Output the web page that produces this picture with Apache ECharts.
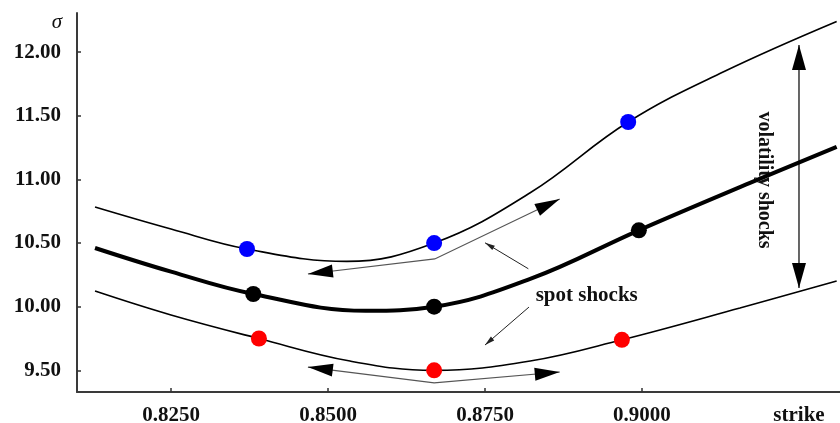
<!DOCTYPE html>
<html><head><meta charset="utf-8">
<script src="https://cdn.jsdelivr.net/npm/echarts@6/dist/echarts.min.js"></script>
<style>html,body{margin:0;padding:0;background:#fff}#c{width:840px;height:423px}</style>
</head><body><div id="c"></div>
<script>
// ---- data ----
const xTicks = [0.825, 0.85, 0.875, 0.9];
const yTicks = [9.5, 10, 10.5, 11, 11.5, 12];
const xTitle = 'strike';
const xTitleAt = 0.925;
const yTitle = 'σ';

const upperCurve = [[0.8129,10.783],[0.8250,10.610],[0.8371,10.453],[0.8530,10.356],[0.8669,10.500],[0.8822,10.895],[0.8978,11.451],[0.9130,11.845],[0.9310,12.240]];
const baseCurve  = [[0.8129,10.461],[0.8250,10.275],[0.8381,10.100],[0.8560,9.968],[0.8669,10.000],[0.8822,10.218],[0.8995,10.600],[0.9172,10.972],[0.9310,11.255]];
const lowerCurve = [[0.8129,10.123],[0.8250,9.935],[0.8390,9.750],[0.8535,9.573],[0.8669,9.500],[0.8822,9.573],[0.8968,9.740],[0.9156,9.990],[0.9310,10.202]];

const bluePoints  = [[0.8371,10.453],[0.8669,10.500],[0.8978,11.451]];
const blackPoints = [[0.8381,10.100],[0.8669,10.000],[0.8995,10.600]];
const redPoints   = [[0.8390,9.750],[0.8669,9.500],[0.8968,9.740]];

// annotation geometry in data units
const volShockArrow = [[0.9250,12.056],[0.9250,10.147]];
const spotArrowUpper = [[0.8468,10.257],[0.8670,10.375],[0.8869,10.846]];
const spotArrowLower = [[0.8468,9.526],[0.8669,9.401],[0.8869,9.487]];
const pointerUpper = [[0.8819,10.298],[0.8750,10.502]];
const pointerLower = [[0.8820,9.997],[0.8750,9.699]];
const spotLabel = {text:'spot shocks', at:[0.8912,10.084]};
const volLabel = {text:'volatility shocks', at:[0.9194,10.995]};

// ---- chart ----
const FONT = '"Liberation Serif", "Times New Roman", serif';
const chart = echarts.init(document.getElementById('c'), null, {renderer:'canvas'});

function head(tip, from, len, wid, color){
  const dx = tip[0]-from[0], dy = tip[1]-from[1];
  const d = Math.hypot(dx,dy) || 1; const ux = dx/d, uy = dy/d;
  const bx = tip[0]-ux*len, by = tip[1]-uy*len;
  return {type:'polygon', shape:{points:[[tip[0],tip[1]],[bx-uy*wid/2, by+ux*wid/2],[bx+uy*wid/2, by-ux*wid/2]]}, style:{fill:color}};
}
function poly(pts, w, color){
  return {type:'polyline', shape:{points:pts}, style:{stroke:color, lineWidth:w, fill:null}};
}

function renderAnno(params, api){
  const c = p => api.coord(p);
  const ch = [];
  const vl = c(volLabel.at);
  ch.push({type:'text', x:vl[0], y:vl[1], rotation:-Math.PI/2,
    style:{text:volLabel.text, align:'center', verticalAlign:'middle', font:'bold 20px '+FONT, fill:'#111'}});
  const sl = c(spotLabel.at);
  ch.push({type:'text', x:sl[0], y:sl[1],
    style:{text:spotLabel.text, align:'center', verticalAlign:'middle', font:'bold 21px '+FONT, fill:'#111'}});
  const v = volShockArrow.map(c);
  ch.push(poly(v, 1.2, '#000'));
  ch.push(head(v[0], v[1], 25, 14, '#000'));
  ch.push(head(v[1], v[0], 25, 14, '#000'));
  [spotArrowUpper, spotArrowLower].forEach(a => {
    const p = a.map(c);
    ch.push(poly(p, 1.2, '#555'));
    ch.push(head(p[0], p[1], 25, 13, '#000'));
    ch.push(head(p[2], p[1], 25, 13, '#000'));
  });
  [pointerUpper, pointerLower].forEach(a => {
    const p = a.map(c);
    ch.push(poly(p, 1, '#222'));
    ch.push(head(p[1], p[0], 10, 5, '#222'));
  });
  return {type:'group', children:ch};
}

const option = {
  animation:false,
  backgroundColor:'#fff',
  grid:{left:77, right:0, top:13, bottom:31, containLabel:false, outerBoundsMode:'none'},
  xAxis:{
    type:'value', min:0.81003, max:0.93153,
    axisLine:{show:true, onZero:false, lineStyle:{color:'#3a3a3a', width:2}},
    axisTick:{show:true, inside:true, length:4, customValues:xTicks, lineStyle:{color:'#333', width:1.5}},
    axisLabel:{customValues:xTicks.concat([xTitleAt]), margin:13,
      formatter: v => Math.abs(v-xTitleAt)<1e-9 ? xTitle : v.toFixed(4),
      fontFamily:FONT, fontWeight:'bold', fontSize:21, color:'#111'},
    splitLine:{show:false}
  },
  yAxis:{
    type:'value', min:9.330, max:12.307,
    name:yTitle, nameLocation:'end', nameGap:-9,
    nameTextStyle:{fontFamily:FONT, fontStyle:'italic', fontSize:21, color:'#111', align:'right', verticalAlign:'middle', padding:[0,15,0,0]},
    axisLine:{show:true, onZero:false, lineStyle:{color:'#3a3a3a', width:2}},
    axisTick:{show:true, inside:true, length:4, customValues:yTicks, lineStyle:{color:'#333', width:1.5}},
    axisLabel:{customValues:yTicks, margin:16, formatter: v => v.toFixed(2),
      fontFamily:FONT, fontWeight:'bold', fontSize:21, color:'#111'},
    splitLine:{show:false}
  },
  series:[
    {type:'custom', coordinateSystem:'cartesian2d', data:[[0.87,10]], renderItem:renderAnno, z:1, silent:true, clip:false},
    {type:'line', data:upperCurve, smooth:0.4, showSymbol:false, lineStyle:{color:'#000', width:1.6}, z:3},
    {type:'line', data:baseCurve, smooth:0.4, showSymbol:false, lineStyle:{color:'#000', width:4}, z:3},
    {type:'line', data:lowerCurve, smooth:0.4, showSymbol:false, lineStyle:{color:'#000', width:1.6}, z:3},
    {type:'scatter', data:bluePoints, symbolSize:16, itemStyle:{color:'#0000ff', opacity:1}, z:5},
    {type:'scatter', data:blackPoints, symbolSize:16, itemStyle:{color:'#000', opacity:1}, z:5},
    {type:'scatter', data:redPoints, symbolSize:16, itemStyle:{color:'#ff0000', opacity:1}, z:5}
  ]
};
chart.setOption(option);
</script></body></html>
